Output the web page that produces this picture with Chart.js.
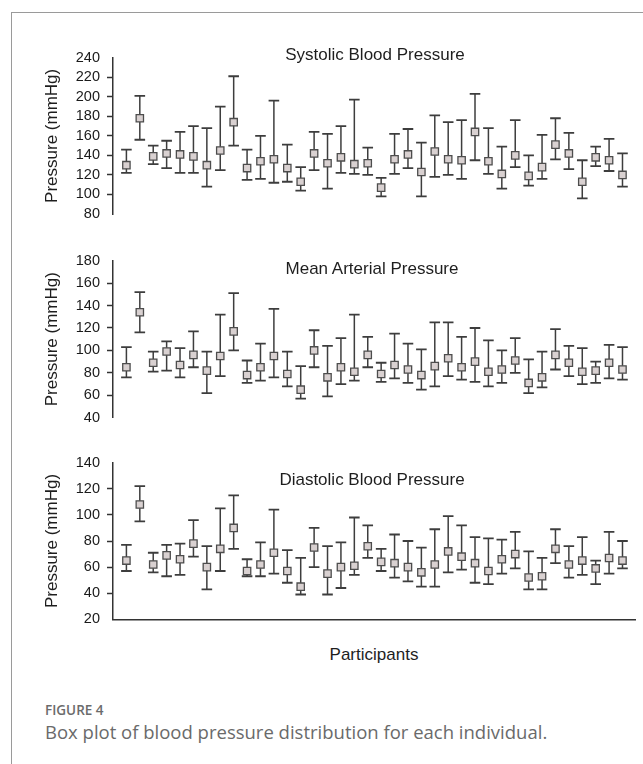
<!DOCTYPE html>
<html>
<head>
<meta charset="utf-8">
<script src="https://cdn.jsdelivr.net/npm/chart.js@4.4.1/dist/chart.umd.min.js"></script>
<style>
  html, body { margin: 0; padding: 0; background: #fff; }
  #page { position: relative; width: 643px; height: 764px; overflow: hidden; font-family: 'Liberation Sans', Arial, sans-serif; }
  #frame { position: absolute; left: 11px; top: 12px; right: -2px; bottom: -2px; border-top: 1px solid #9a9a9a; border-left: 1px solid #9a9a9a; }
  canvas { position: absolute; left: 0; }
  .ptitle { position: absolute; width: 300px; text-align: center; font-size: 17px; line-height: 20px; color: #1e1e1e; white-space: nowrap; z-index: 2; }
  #xlabel { position: absolute; left: 274px; width: 200px; top: 645px; text-align: center; font-size: 17px; line-height: 20px; color: #1e1e1e; }
  #fig { position: absolute; left: 45px; top: 700px; font-family: 'Open Sans', sans-serif; font-weight: 600; font-size: 13.5px; line-height: 20px; color: #6b6b6b; }
  #caption { position: absolute; left: 45px; top: 720px; font-family: 'Open Sans', sans-serif; font-size: 18.5px; line-height: 24px; color: #6a6a6a; white-space: nowrap; }
</style>
</head>
<body>
<div id="page">
  <div id="frame"></div>
  <canvas id="sbpChart" width="643" height="190" style="top:42px"></canvas>
  <canvas id="mapChart" width="643" height="190" style="top:245px"></canvas>
  <canvas id="dbpChart" width="643" height="190" style="top:447px"></canvas>
  <div class="ptitle" style="left:225px; top:45px">Systolic Blood Pressure</div>
  <div class="ptitle" style="left:222px; top:259px">Mean Arterial Pressure</div>
  <div class="ptitle" style="left:222px; top:470px">Diastolic Blood Pressure</div>
  <div id="xlabel">Participants</div>
  <div id="fig">FIGURE 4</div>
  <div id="caption">Box plot of blood pressure distribution for each individual.</div>
</div>
<script>
/* per-participant min / centre / max */
const PARTICIPANTS = [1, 2, 3, 4, 5, 6, 7, 8, 9, 10, 11, 12, 13, 14, 15, 16, 17, 18, 19,
  20, 21, 22, 23, 24, 25, 26, 27, 28, 29, 30, 31, 32, 33, 34, 35, 36, 37, 38];

const SBP_LOW  = [122,156,131,127,122,122,108,125,150,115,116,112,113,104,125,106,122,121,120,98,121,127,98,118,120,116,135,121,106,128,109,116,136,126,96,129,124,108];
const SBP_MID  = [130,178,139,142,141,139,130,145,174,127,134,136,127,113,142,132,138,131,132,107,136,141,123,144,136,135,164,134,121,140,119,128,151,142,113,138,135,120];
const SBP_HIGH = [146,201,150,155,164,170,168,190,221,146,160,196,151,128,164,162,170,197,148,117,162,167,153,181,174,176,203,168,149,176,140,161,178,163,135,149,157,142];

const MAP_LOW  = [76,116,81,82,76,85,62,77,100,71,73,76,68,57,85,59,70,73,85,72,75,71,65,68,77,74,72,68,71,80,62,67,83,77,70,71,75,74];
const MAP_MID  = [85,134,89,99,87,96,82,95,117,78,85,95,79,65,100,76,85,81,96,79,87,83,78,86,93,85,90,81,83,91,71,76,96,89,81,82,89,83];
const MAP_HIGH = [103,152,99,108,102,117,99,132,151,91,106,137,99,86,118,104,111,132,112,89,115,106,101,125,125,112,120,109,100,111,92,99,119,104,102,90,105,103];

const DBP_LOW  = [57,95,56,53,54,68,43,57,74,53,53,55,48,39,60,39,44,54,67,57,52,49,45,45,56,58,48,47,55,59,43,43,63,52,54,47,55,59];
const DBP_MID  = [65,108,62,69,66,78,60,74,90,57,62,71,57,45,75,55,60,61,76,64,63,60,56,62,72,68,63,57,66,70,52,53,74,62,65,59,67,65];
const DBP_HIGH = [77,122,71,77,78,96,76,105,115,66,79,104,73,67,90,76,79,98,92,74,85,80,75,89,99,92,83,82,81,87,72,67,89,76,83,65,87,80];

const INK = '#333';
const WHISKER = '#3d3d3d';

Chart.defaults.font.family = "'Liberation Sans', Arial, sans-serif";
Chart.defaults.color = '#1e1e1e';

function points(values) {
  return values.map((v, i) => ({ x: PARTICIPANTS[i], y: v }));
}

function makePanel(id, low, mid, high, yMin, yMax, padTop, padBottom, showX) {
  // the end ticks sit on the axis ends and are not drawn in the original
  const hideEnds = (ctx) => (ctx.tick && (ctx.tick.value === yMin || ctx.tick.value === yMax)) ? 'rgba(0,0,0,0)' : INK;
  return new Chart(document.getElementById(id), {
    type: 'scatter',
    data: { datasets: [
      { type: 'scatter', data: points(mid), pointStyle: 'rect', pointRadius: 5.2, backgroundColor: '#d9d1d1', borderColor: '#4d4d4d', borderWidth: 1.3, order: 0 },
      { type: 'scatter', data: points(high), pointStyle: 'line', pointRadius: 5.3, borderColor: WHISKER, borderWidth: 1.8, order: 1 },
      { type: 'scatter', data: points(low), pointStyle: 'line', pointRadius: 5.3, borderColor: WHISKER, borderWidth: 1.8, order: 1 },
      { type: 'bar', data: low.map((v, i) => ({ x: PARTICIPANTS[i], y: [v, high[i]] })), backgroundColor: WHISKER, barThickness: 1.5, inflateAmount: 0, borderWidth: 0, grouped: false, order: 2 },
    ] },
    options: {
      responsive: false, animation: false, events: [],
      layout: { padding: { left: 0, right: 5, top: padTop, bottom: padBottom } },
      plugins: { legend: { display: false }, tooltip: { enabled: false } },
      scales: {
        x: {
          type: 'linear', min: 0, max: 39, offset: false, display: showX,
          ticks: { display: false },
          grid: { display: false, drawTicks: false },
          border: { display: true, color: INK, width: 1.5 },
        },
        y: {
          type: 'linear', min: yMin, max: yMax,
          afterFit: (s) => { s.width = 113; },
          ticks: { stepSize: 20, autoSkip: false, padding: 7, color: '#1a1a1a', font: { size: 14.5 } },
          grid: { drawOnChartArea: false, drawTicks: true, tickLength: 6, tickWidth: 1.5, tickColor: hideEnds },
          border: { display: true, color: INK, width: 1.5 },
          title: { display: true, text: 'Pressure (mmHg)', color: '#1e1e1e', font: { size: 17 }, padding: { top: 42.5, bottom: 0 } },
        },
      },
    },
  });
}

makePanel('sbpChart', SBP_LOW, SBP_MID, SBP_HIGH, 80, 240, 15.3, 18, false);
makePanel('mapChart', MAP_LOW, MAP_MID, MAP_HIGH, 40, 180, 15, 17.3, false);
makePanel('dbpChart', DBP_LOW, DBP_MID, DBP_HIGH, 20, 140, 15.3, 17.7, true);
</script>
</body>
</html>
